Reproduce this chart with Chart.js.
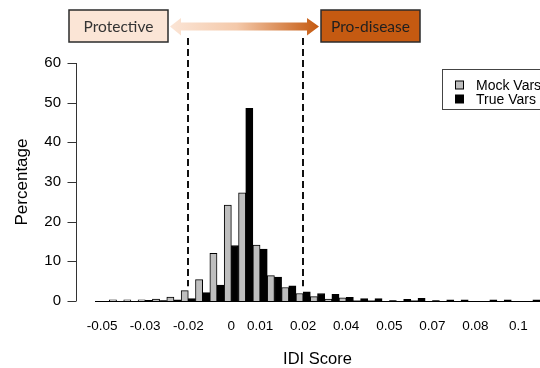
<!DOCTYPE html>
<html>
<head>
<meta charset="utf-8">
<script src="https://cdn.jsdelivr.net/npm/chart.js@4.4.1/dist/chart.umd.min.js"></script>
<style>
  html, body { margin: 0; padding: 0; background: #fff; overflow: hidden; }
</style>
</head>
<body>
<canvas id="chart" width="540" height="368"></canvas>
<script>
// IDI score bins (bin start), 0.005 wide
const categories = [-0.05, -0.045, -0.04, -0.035, -0.03, -0.025, -0.02, -0.015, -0.01, -0.005,
                    0, 0.005, 0.01, 0.015, 0.02, 0.025, 0.03, 0.035, 0.04, 0.045,
                    0.05, 0.055, 0.06, 0.065, 0.07, 0.075, 0.08, 0.085, 0.09, 0.095, 0.1];
const mockVars = [0, 0.3, 0.3, 0.3, 0.5, 1.0, 2.6, 5.4, 12.0, 24.2,
                  27.3, 14.1, 6.4, 3.4, 1.9, 1.1, 0.5, 0.8, 0.1, 0.1,
                  0, 0, 0.1, 0, 0, 0, 0, 0, 0, 0, 0];
const trueVars = [0, 0, 0, 0.2, 0.1, 0.3, 0.6, 2.1, 4.0, 14.0,
                  48.6, 13.1, 6.0, 3.8, 2.3, 1.9, 1.7, 0.9, 0.6, 0.6,
                  0.1, 0.4, 0.7, 0.1, 0.3, 0.3, 0, 0.3, 0.3, 0, 0.3];
// labels that R actually printed under the bars
const tickIndex = [0, 3, 6, 9, 11, 14, 17, 20, 23, 26, 29];
const tickText = ["-0.05", "-0.03", "-0.02", "0", "0.01", "0.02", "0.04", "0.05", "0.07", "0.08", "0.1"];
const cutoffs = [-0.02, 0.02];

const AXIS_FONT = "'Liberation Sans', Arial, sans-serif";

// R style y axis, detached from the bars
const rAxis = {
  id: "rAxis",
  afterDraw(chart) {
    const c = chart.ctx, y = chart.scales.y, x0 = chart.chartArea.left - 18.5;
    c.save();
    c.strokeStyle = "#333";
    c.lineWidth = 1;
    c.beginPath();
    c.moveTo(x0, y.getPixelForValue(y.max));
    c.lineTo(x0, y.getPixelForValue(y.min));
    y.ticks.forEach(t => {
      const py = Math.round(y.getPixelForValue(t.value)) + 0.5;
      c.moveTo(x0 - 9, py);
      c.lineTo(x0, py);
    });
    c.stroke();
    c.restore();
  }
};

// dashed cutoff lines at -0.02 and 0.02
const cutoffLines = {
  id: "cutoffLines",
  afterDatasetsDraw(chart) {
    const c = chart.ctx, xs = chart.scales.x, ys = chart.scales.y;
    c.save();
    c.strokeStyle = "#111";
    c.lineWidth = 2;
    c.setLineDash([7, 4]);
    cutoffs.forEach(v => {
      const px = Math.round(xs.getPixelForValue(categories.indexOf(v)));
      c.beginPath();
      c.moveTo(px, 38);
      c.lineTo(px, ys.getPixelForValue(3.7));
      c.stroke();
    });
    c.restore();
  }
};

// header: Protective <-> Pro-disease
const header = {
  id: "header",
  afterDraw(chart) {
    const c = chart.ctx;
    c.save();
    // arrow
    const g = c.createLinearGradient(170, 0, 318, 0);
    g.addColorStop(0, "#FBE5D6");
    g.addColorStop(0.45, "#F4C9AA");
    g.addColorStop(1, "#C55A11");
    c.fillStyle = g;
    c.beginPath();
    c.moveTo(170, 26.5);
    c.lineTo(181, 18);
    c.lineTo(181, 22.5);
    c.lineTo(307, 22.5);
    c.lineTo(307, 18);
    c.lineTo(319, 26.5);
    c.lineTo(307, 35.5);
    c.lineTo(307, 30.5);
    c.lineTo(181, 30.5);
    c.lineTo(181, 35.5);
    c.closePath();
    c.fill();
    // boxes
    c.lineWidth = 1.5;
    c.strokeStyle = "#2b2b2b";
    c.fillStyle = "#FBE5D6";
    c.fillRect(69, 10, 99, 32);
    c.strokeRect(69, 10, 99, 32);
    c.fillStyle = "#C55A11";
    c.fillRect(321, 10, 99, 32);
    c.strokeRect(321, 10, 99, 32);
    c.font = "15.5px Lato, 'Open Sans', sans-serif";
    c.textAlign = "center";
    c.textBaseline = "middle";
    c.fillStyle = "#333";
    c.fillText("Protective", 118.5, 26.5);
    c.fillStyle = "#1f1f1f";
    c.fillText("Pro-disease", 370.5, 26.5);
    c.restore();
  }
};

// legend box (cut by the right edge as in the figure)
const boxLegend = {
  id: "boxLegend",
  afterDraw(chart) {
    const c = chart.ctx;
    c.save();
    c.strokeStyle = "#444";
    c.lineWidth = 1;
    c.strokeRect(442.5, 69.5, 140, 40);
    c.font = "14px " + AXIS_FONT;
    c.textBaseline = "middle";
    chart.data.datasets.forEach((ds, i) => {
      const cy = 85 + i * 14;
      c.fillStyle = ds.backgroundColor;
      c.fillRect(455.5, cy - 4, 8, 8);
      c.strokeStyle = "#000";
      c.strokeRect(455.5, cy - 4, 8, 8);
      c.fillStyle = "#000";
      c.fillText(ds.label, 476, cy + 1);
    });
    c.restore();
  }
};

new Chart(document.getElementById("chart").getContext("2d"), {
  type: "bar",
  data: {
    labels: categories,
    datasets: [
      {
        label: "Mock Vars",
        data: mockVars,
        backgroundColor: "#BEBEBE",
        borderColor: "#000",
        borderWidth: 1
      },
      {
        label: "True Vars",
        data: trueVars,
        backgroundColor: "#000",
        borderColor: "#000",
        borderWidth: 1
      }
    ]
  },
  options: {
    responsive: false,
    animation: false,
    layout: { padding: { top: 63, right: 0, bottom: 0, left: 0 } },
    datasets: { bar: { categoryPercentage: 1, barPercentage: 1 } },
    plugins: {
      legend: { display: false },
      tooltip: { enabled: false }
    },
    scales: {
      x: {
        grid: { display: false, drawTicks: false },
        border: { display: true, color: "#000", width: 1 },
        ticks: {
          autoSkip: false,
          maxRotation: 0,
          padding: 17,
          color: "#000",
          font: { family: AXIS_FONT, size: 13.5 },
          callback: (v, i) => {
            const k = tickIndex.indexOf(i);
            return k >= 0 ? tickText[k] : "";
          }
        },
        title: {
          display: true,
          text: "IDI Score",
          color: "#000",
          font: { family: AXIS_FONT, size: 16.5, lineHeight: 1 },
          padding: { top: 0, bottom: 0 }
        },
        afterFit: s => {
          s.height = 67;
          s.paddingLeft = 0;
          s.paddingRight = 0;
        }
      },
      y: {
        min: 0,
        max: 60,
        grid: { display: false, drawTicks: false },
        border: { display: false },
        ticks: {
          stepSize: 10,
          padding: 34,
          color: "#000",
          font: { family: AXIS_FONT, size: 15 }
        },
        title: {
          display: true,
          text: "Percentage",
          color: "#000",
          font: { family: AXIS_FONT, size: 17, lineHeight: 1 },
          padding: { top: 13.5, bottom: 0 }
        },
        afterFit: s => { s.width = 95; }
      }
    }
  },
  plugins: [rAxis, cutoffLines, header, boxLegend]
});
</script>
</body>
</html>
